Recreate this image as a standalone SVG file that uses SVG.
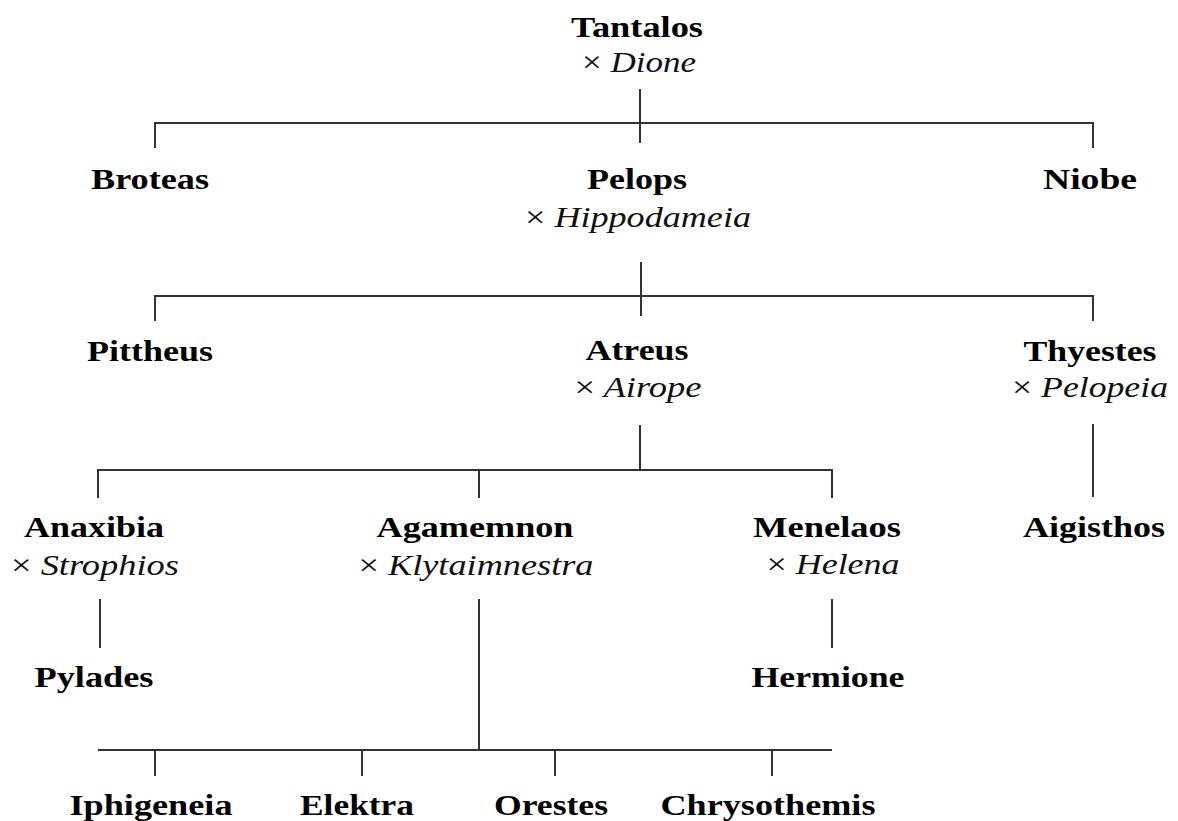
<svg xmlns="http://www.w3.org/2000/svg" width="1178" height="821" viewBox="0 0 1178 821">
<style>
  .b { font-family: "Liberation Serif", "Times New Roman", serif; font-weight: bold; font-size: 30px; fill: #000; text-anchor: middle; }
  .i { font-family: "Liberation Serif", "Times New Roman", serif; font-style: italic; font-size: 29px; fill: #111; text-anchor: middle; }
  .x { font-style: normal; }
  .c { fill: none; stroke: #333; stroke-width: 2; }
</style>
<rect width="1178" height="821" fill="#fff"/>
<g id="connectors" class="c">
  <path d="M640 89 V143 M155 148 V123 H1093 V148"/>
  <path d="M641 262 V316 M155 321 V296 H1093 V321"/>
  <path d="M640 425 V470 M98 498 V470 H832 V498 M479 470 V498"/>
  <path d="M1093 424 V497"/>
  <path d="M100 599 V648"/>
  <path d="M832 599 V648"/>
  <path d="M479 599 V750 M98 750 H832 M155 750 V776 M362 750 V776 M555 750 V776 M772 750 V776"/>
</g>
<g id="tantalos"><text class="b" x="637" y="37" textLength="132" lengthAdjust="spacingAndGlyphs">Tantalos</text><text class="i" x="639" y="72" textLength="114" lengthAdjust="spacingAndGlyphs"><tspan class="x">×</tspan> Dione</text></g>
<g id="broteas"><text class="b" x="150" y="189" textLength="118" lengthAdjust="spacingAndGlyphs">Broteas</text></g>
<g id="pelops"><text class="b" x="637" y="189" textLength="100" lengthAdjust="spacingAndGlyphs">Pelops</text><text class="i" x="638" y="227" textLength="226" lengthAdjust="spacingAndGlyphs"><tspan class="x">×</tspan> Hippodameia</text></g>
<g id="niobe"><text class="b" x="1090" y="189" textLength="94" lengthAdjust="spacingAndGlyphs">Niobe</text></g>
<g id="pittheus"><text class="b" x="150" y="361" textLength="126" lengthAdjust="spacingAndGlyphs">Pittheus</text></g>
<g id="atreus"><text class="b" x="637" y="360" textLength="103" lengthAdjust="spacingAndGlyphs">Atreus</text><text class="i" x="638" y="397" textLength="127" lengthAdjust="spacingAndGlyphs"><tspan class="x">×</tspan> Airope</text></g>
<g id="thyestes"><text class="b" x="1090" y="361" textLength="133" lengthAdjust="spacingAndGlyphs">Thyestes</text><text class="i" x="1090" y="397" textLength="156" lengthAdjust="spacingAndGlyphs"><tspan class="x">×</tspan> Pelopeia</text></g>
<g id="anaxibia"><text class="b" x="94" y="537" textLength="140" lengthAdjust="spacingAndGlyphs">Anaxibia</text><text class="i" x="95" y="575" textLength="168" lengthAdjust="spacingAndGlyphs"><tspan class="x">×</tspan> Strophios</text></g>
<g id="agamemnon"><text class="b" x="475" y="537" textLength="197" lengthAdjust="spacingAndGlyphs">Agamemnon</text><text class="i" x="476" y="575" textLength="235" lengthAdjust="spacingAndGlyphs"><tspan class="x">×</tspan> Klytaimnestra</text></g>
<g id="menelaos"><text class="b" x="827" y="537" textLength="148" lengthAdjust="spacingAndGlyphs">Menelaos</text><text class="i" x="833" y="574" textLength="133" lengthAdjust="spacingAndGlyphs"><tspan class="x">×</tspan> Helena</text></g>
<g id="aigisthos"><text class="b" x="1094" y="537" textLength="142" lengthAdjust="spacingAndGlyphs">Aigisthos</text></g>
<g id="pylades"><text class="b" x="94" y="687" textLength="119" lengthAdjust="spacingAndGlyphs">Pylades</text></g>
<g id="hermione"><text class="b" x="828" y="687" textLength="153" lengthAdjust="spacingAndGlyphs">Hermione</text></g>
<g id="iphigeneia"><text class="b" x="151" y="815" textLength="163" lengthAdjust="spacingAndGlyphs">Iphigeneia</text></g>
<g id="elektra"><text class="b" x="357" y="815" textLength="114" lengthAdjust="spacingAndGlyphs">Elektra</text></g>
<g id="orestes"><text class="b" x="551" y="815" textLength="114" lengthAdjust="spacingAndGlyphs">Orestes</text></g>
<g id="chrysothemis"><text class="b" x="768" y="815" textLength="215" lengthAdjust="spacingAndGlyphs">Chrysothemis</text></g>
</svg>
